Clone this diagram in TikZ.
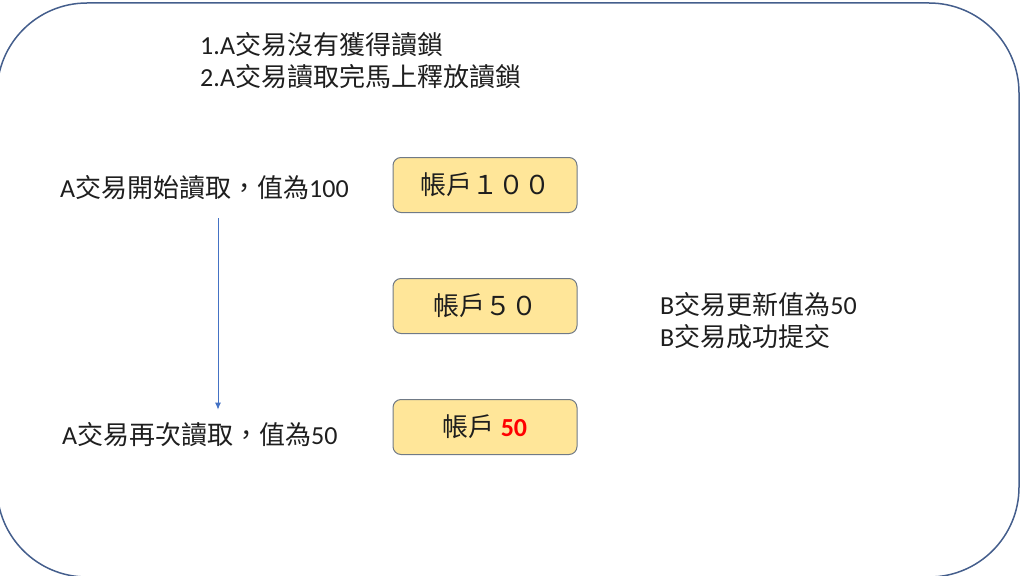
\documentclass[tikz,border=0pt]{standalone}
\usepackage{fontspec}
\setmainfont{Carlito}
\newfontfamily\cjk{Noto Sans CJK TC}
\usepackage{tikz}
\usetikzlibrary{positioning,arrows.meta}
\definecolor{framecol}{RGB}{68,94,140}
\definecolor{boxyellow}{RGB}{255,230,153}
\definecolor{boxgray}{RGB}{112,122,134}
\definecolor{flowblue}{RGB}{68,114,196}
\definecolor{txtcol}{RGB}{30,30,30}
\def\zh#1{{\cjk #1}}

\begin{document}
\begin{tikzpicture}[x=1pt,y=-1pt,node distance=121pt,on grid,
	acct/.style={draw=boxgray,fill=boxyellow,rounded corners=8pt,line width=1pt,minimum width=184pt,minimum height=55pt,font=\fontsize{26}{30}\selectfont,text=txtcol},
	txt/.style={anchor=west,align=left,inner sep=0pt,font=\fontsize{26}{32}\selectfont,text=txtcol}]
\useasboundingbox (0,0) rectangle (1024,575);
\clip (0,0) rectangle (1024,575);
\draw[framecol,line width=1.5pt,rounded corners=90pt] (-3,3) rectangle (1019,577);

\node[txt]		(note)		at (200,61)				{1.A\zh{交易沒有獲得讀鎖}\\2.A\zh{交易讀取完馬上釋放讀鎖}};
\node[acct]		(acct_1)	at (485,185)			{\zh{帳戶１００}};
\node[acct]		(acct_2)	[below=of acct_1]		{\zh{帳戶５０}};
\node[acct]		(acct_3)	[below=of acct_2]		{\zh{帳戶} \textcolor{red}{\bfseries 50}};
\node[txt]		(readA)		at (60,188)				{A\zh{交易開始讀取，值為}100};
\node[txt]		(readB)		at (62,435)				{A\zh{交易再次讀取，值為}50};
\node[txt]		(updB)		at (660,321)			{B\zh{交易更新值為}50\\B\zh{交易成功提交}};

\draw[flowblue,line width=1pt,-{Latex[length=7pt,width=6pt]},shorten <=18pt,shorten >=13pt]
	(218,0 |- readA.south) -- (218,0 |- readB.north);
\end{tikzpicture}
\end{document}
